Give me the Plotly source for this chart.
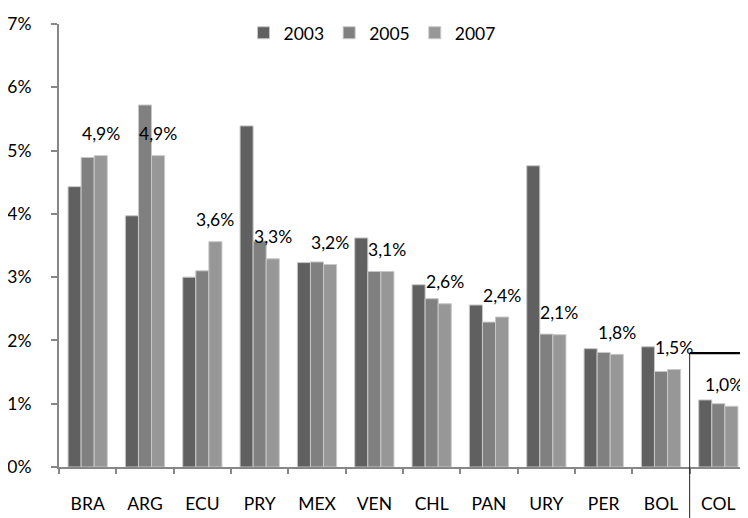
import plotly.graph_objects as go

countries = ["BRA", "ARG", "ECU", "PRY", "MEX", "VEN", "CHL", "PAN", "URY", "PER", "BOL", "COL"]
v2003 = [4.43, 3.97, 3.00, 5.39, 3.23, 3.62, 2.88, 2.56, 4.76, 1.87, 1.90, 1.06]
v2005 = [4.89, 5.72, 3.10, 3.57, 3.24, 3.09, 2.66, 2.29, 2.10, 1.81, 1.51, 1.00]
v2007 = [4.92, 4.92, 3.56, 3.29, 3.20, 3.09, 2.58, 2.37, 2.09, 1.78, 1.54, 0.96]
years = ["2003", "2005", "2007"]
colors = ["#606060", "#808080", "#979797"]
label_texts = [f"{v:.1f}".replace(".", ",") + "%" for v in v2007]
highlight_level = 1.8

FONT = "Lato"
fig = go.Figure()
for name, vals, col in zip(years, [v2003, v2005, v2007], colors):
    fig.add_trace(go.Bar(
        x=countries, y=vals, name=name,
        marker=dict(color=col, line=dict(color="#c8c8c8", width=1)),
    ))

n = len(countries)
for i, (c, v, t) in enumerate(zip(countries, v2007, label_texts)):
    last = i == n - 1
    fig.add_annotation(x=c, y=v, text=t, showarrow=False, xref="x", yref="y",
                       xshift=6 if last else 13, yshift=22, yanchor="middle",
                       font=dict(family=FONT, size=17.5, color="#000000"))

# highlight box around COL
fig.add_shape(type="line", xref="x", yref="y", x0=10.5, x1=11.7, y0=highlight_level, y1=highlight_level,
              line=dict(color="black", width=2.2))
fig.add_shape(type="line", xref="x", yref="paper", x0=10.5, x1=10.5, y0=-0.2, y1=highlight_level / 7,
              line=dict(color="#222222", width=1))

fig.update_layout(
    width=740, height=510,
    margin=dict(l=51, r=1, t=16, b=51, autoexpand=False),
    paper_bgcolor="white", plot_bgcolor="white",
    barmode="group", bargap=0.316, bargroupgap=0,
    font=dict(family=FONT, size=17.5, color="#000000"),
    showlegend=True,
    legend=dict(orientation="h", x=0.455, xanchor="center", y=0.98, yanchor="middle",
                font=dict(family=FONT, size=17.5), itemwidth=30, bgcolor="rgba(0,0,0,0)"),
    xaxis=dict(showline=True, linecolor="#878787", linewidth=2, ticks="outside", tickson="boundaries",
               ticklen=5, tickcolor="#878787", tickwidth=1.5, showgrid=False, ticklabelstandoff=20,
               range=[-0.5, 11.5]),
    yaxis=dict(range=[0, 7], dtick=1, ticksuffix="%", showline=True, linecolor="#878787", linewidth=2,
               ticks="outside", ticklen=6, tickcolor="#878787", tickwidth=1.5, showgrid=False,
               zeroline=False, ticklabelstandoff=16),
)

fig.write_html("out.html")
